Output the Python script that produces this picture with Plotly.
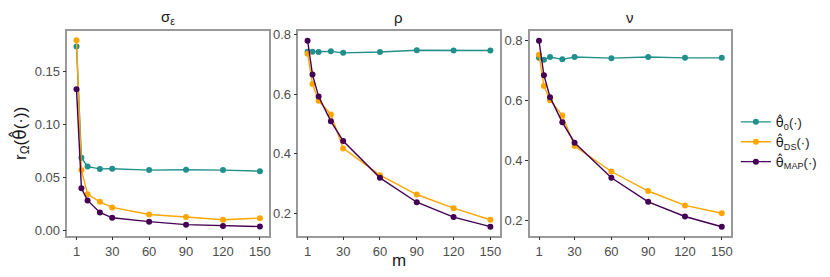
import plotly.graph_objects as go

m = [1, 5, 10, 20, 30, 60, 90, 120, 150]
x_ticks = [1, 30, 60, 90, 120, 150]

# sigma_epsilon panel
sig_0 = [0.173, 0.0686, 0.0603, 0.0581, 0.0583, 0.057, 0.0573, 0.057, 0.056]
sig_ds = [0.179, 0.057, 0.0343, 0.0272, 0.022, 0.0153, 0.0129, 0.0104, 0.0119]
sig_map = [0.133, 0.040, 0.0285, 0.0172, 0.0122, 0.0086, 0.0058, 0.0046, 0.004]

# rho panel
rho_0 = [0.743, 0.743, 0.742, 0.744, 0.739, 0.742, 0.748, 0.747, 0.747]
rho_ds = [0.736, 0.634, 0.578, 0.532, 0.418, 0.328, 0.263, 0.217, 0.178]
rho_map = [0.780, 0.666, 0.592, 0.509, 0.443, 0.319, 0.237, 0.187, 0.155]

# nu panel
nu_0 = [0.741, 0.735, 0.744, 0.736, 0.744, 0.740, 0.744, 0.741, 0.741]
nu_ds = [0.751, 0.647, 0.600, 0.549, 0.447, 0.362, 0.297, 0.249, 0.223]
nu_map = [0.798, 0.683, 0.610, 0.526, 0.458, 0.341, 0.261, 0.212, 0.178]

TH = '<span style="font-family:DejaVu Sans">θ̂</span>'
panel_titles = ["σ<sub>ε</sub>", "ρ", "ν"]
series_names = [TH + "<sub>0</sub>(·)", TH + "<sub>DS</sub>(·)", TH + "<sub>MAP</sub>(·)"]
colors = ["#21908C", "#FFA500", "#440154"]

panels = [
    (sig_0, sig_ds, sig_map),
    (rho_0, rho_ds, rho_map),
    (nu_0, nu_ds, nu_map),
]

# page body has an 8px margin: figure sits at (8, 8)
OFF = 8
W, H = 830 - 2 * OFF, 277 - 2 * OFF


def px(xp):
    return (xp - OFF) / W


def py(yp):
    return 1 - (yp - OFF) / H


x_domains = [[px(68), px(272)], [px(301.7), px(505)], [px(535.7), px(739)]]
y_domain = [py(238), py(28)]
y_ranges = [[-0.0046, 0.188], [0.1245, 0.814], [0.148, 0.832]]
y_ticks = [[0.0, 0.05, 0.10, 0.15], [0.2, 0.4, 0.6, 0.8], [0.2, 0.4, 0.6, 0.8]]
y_ticktext = [["0.00", "0.05", "0.10", "0.15"], ["0.2", "0.4", "0.6", "0.8"], ["0.2", "0.4", "0.6", "0.8"]]

fig = go.Figure()
FONT = "Liberation Sans, Arial, sans-serif"

for p, data in enumerate(panels):
    xa = "x" if p == 0 else f"x{p+1}"
    ya = "y" if p == 0 else f"y{p+1}"
    for s, vals in enumerate(data):
        fig.add_trace(go.Scatter(
            x=m, y=vals, xaxis=xa, yaxis=ya, mode="lines+markers",
            name=series_names[s], legendgroup=series_names[s],
            showlegend=(p == 0),
            line=dict(color=colors[s], width=1.4),
            marker=dict(color=colors[s], size=6),
        ))

layout = dict(
    width=W, height=H,
    margin=dict(l=0, r=0, t=0, b=0),
    paper_bgcolor="white", plot_bgcolor="white",
    font=dict(family=FONT, color="#4D4D4D", size=13),
    legend=dict(x=px(744), y=py(142), xanchor="left", yanchor="middle",
                font=dict(size=13, color="#1A1A1A"), tracegroupgap=0,
                itemwidth=30, bgcolor="rgba(0,0,0,0)"),
    annotations=[],
)

for p in range(3):
    xk = "xaxis" if p == 0 else f"xaxis{p+1}"
    yk = "yaxis" if p == 0 else f"yaxis{p+1}"
    ya = "y" if p == 0 else f"y{p+1}"
    xa = "x" if p == 0 else f"x{p+1}"
    layout[xk] = dict(
        domain=x_domains[p], range=[-6.45, 157.45], anchor=ya,
        tickvals=x_ticks, ticks="outside", ticklen=3, tickcolor="#333333",
        showgrid=False, zeroline=False, showline=True, mirror=True,
        linecolor="#999999", linewidth=1.5,
        tickfont=dict(size=13, color="#4D4D4D"),
    )
    layout[yk] = dict(
        domain=y_domain, range=y_ranges[p], anchor=xa,
        tickvals=y_ticks[p], ticktext=y_ticktext[p],
        ticks="outside", ticklen=3, tickcolor="#333333",
        showgrid=False, zeroline=False, showline=True, mirror=True,
        linecolor="#999999", linewidth=1.5,
        tickfont=dict(size=13, color="#4D4D4D"),
    )
    layout["annotations"].append(dict(
        text=panel_titles[p], xref="paper", yref="paper",
        x=sum(x_domains[p]) / 2, y=py(15), xanchor="center", yanchor="middle",
        showarrow=False, font=dict(size=15, color="#1A1A1A"),
    ))

layout["annotations"].append(dict(
    text="m", xref="paper", yref="paper", x=sum(x_domains[1]) / 2, y=py(263),
    xanchor="center", yanchor="middle", showarrow=False,
    font=dict(size=17, color="#1A1A1A"),
))
layout["annotations"].append(dict(
    text="r<sub>Ω</sub>(" + TH + "(·))", xref="paper", yref="paper", x=px(20), y=py(133),
    xanchor="center", yanchor="middle", showarrow=False, textangle=-90,
    font=dict(size=17, color="#1A1A1A"),
))

fig.update_layout(**layout)
fig.write_html("out.html")
